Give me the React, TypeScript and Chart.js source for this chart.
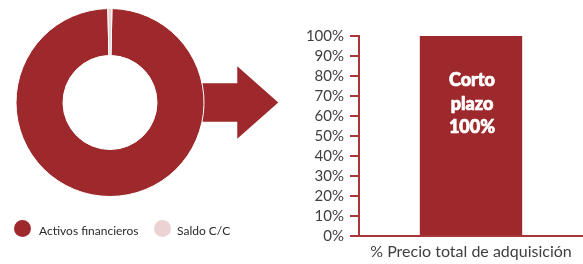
import React, { useEffect, useRef } from 'react';
import { Chart, registerables } from 'chart.js';

Chart.register(...registerables);

const RED = '#9e292c';
const AXIS_RED = '#a8353a';
const TEXT_GRAY = '#3f3f3f';
const FONT = 'Lato';

const donutLabels = ['Activos financieros', 'Saldo C/C'];
const donutValues = [99.3, 0.7];
const donutColors = [RED, '#ebd2d3'];

const barCategories = ['Corto plazo'];
const barValues = [100];
const yMin = 0;
const yMax = 100;
const yStep = 10;
const xAxisTitle = '% Precio total de adquisición';

const arrowPlugin = {
  id: 'arrowDeco',
  beforeDatasetsDraw(chart: any) {
    const arc: any = chart.getDatasetMeta(0).data[0];
    if (!arc) return;
    const cx = arc.x;
    const cy = arc.y;
    const r = arc.outerRadius;
    const ctx = chart.ctx;
    ctx.save();
    ctx.fillStyle = RED;
    ctx.beginPath();
    ctx.moveTo(cx + 0.75 * r, cy - 0.206 * r);
    ctx.lineTo(cx + 1.354 * r, cy - 0.206 * r);
    ctx.lineTo(cx + 1.354 * r, cy - 0.386 * r);
    ctx.lineTo(cx + 1.79 * r, cy);
    ctx.lineTo(cx + 1.354 * r, cy + 0.386 * r);
    ctx.lineTo(cx + 1.354 * r, cy + 0.206 * r);
    ctx.lineTo(cx + 0.75 * r, cy + 0.206 * r);
    ctx.closePath();
    ctx.fill();
    ctx.restore();
  },
};

const barLabelPlugin = {
  id: 'barLabel',
  afterDatasetsDraw(chart: any) {
    const meta = chart.getDatasetMeta(0);
    const ctx = chart.ctx;
    ctx.save();
    ctx.fillStyle = '#ffffff';
    ctx.strokeStyle = '#ffffff';
    ctx.lineWidth = 0.7;
    ctx.lineJoin = 'round';
    ctx.font = `900 18px ${FONT}`;
    ctx.textAlign = 'center';
    ctx.textBaseline = 'alphabetic';
    meta.data.forEach((bar: any, i: number) => {
      const lines = [...barCategories[i].split(' '), `${barValues[i]}%`];
      lines.forEach((line, j) => {
        const y = bar.y + 50 + j * 23.5;
        ctx.fillText(line, bar.x + 1, y);
        ctx.strokeText(line, bar.x + 1, y);
      });
    });
    ctx.restore();
  },
};

export default function App() {
  const donutRef = useRef<HTMLCanvasElement>(null);
  const barRef = useRef<HTMLCanvasElement>(null);

  useEffect(() => {
    const donut = new Chart(donutRef.current!, {
      type: 'doughnut',
      data: {
        labels: donutLabels,
        datasets: [
          {
            data: donutValues,
            backgroundColor: donutColors,
            borderColor: '#ffffff',
            borderWidth: 1,
          },
        ],
      },
      options: {
        responsive: false,
        animation: false,
        cutout: '50%',
        rotation: 1.2,
        layout: { padding: { left: 15, right: 95, top: 8, bottom: 67 } },
        plugins: { legend: { display: false }, tooltip: { enabled: false } },
      },
      plugins: [arrowPlugin],
    });

    const bar = new Chart(barRef.current!, {
      type: 'bar',
      data: {
        labels: barCategories,
        datasets: [
          {
            data: barValues,
            backgroundColor: RED,
            barPercentage: 0.457,
            categoryPercentage: 1,
          },
        ],
      },
      options: {
        responsive: false,
        animation: false,
        layout: { padding: { left: 0, right: 0, top: 36, bottom: 0 } },
        plugins: { legend: { display: false }, tooltip: { enabled: false } },
        scales: {
          x: {
            grid: { display: false },
            border: { display: true, color: AXIS_RED, width: 2 },
            ticks: { display: false },
            title: {
              display: true,
              text: xAxisTitle,
              color: TEXT_GRAY,
              font: { family: FONT, size: 16 },
              padding: { top: 0, bottom: 3 },
            },
            afterFit(scale: any) {
              scale.height = 28;
            },
          },
          y: {
            min: yMin,
            max: yMax,
            grid: {
              display: true,
              drawOnChartArea: false,
              drawTicks: true,
              tickLength: 9,
              color: AXIS_RED,
              lineWidth: 2,
            },
            border: { display: true, color: AXIS_RED, width: 2 },
            ticks: {
              stepSize: yStep,
              autoSkip: false,
              padding: 6,
              color: TEXT_GRAY,
              font: { family: FONT, size: 15 },
              callback: (v: any) => `${v}%`,
            },
            afterFit(scale: any) {
              scale.width = 71;
            },
          },
        },
      },
      plugins: [barLabelPlugin],
    });

    return () => {
      donut.destroy();
      bar.destroy();
    };
  }, []);

  return (
    <div
      style={{
        position: 'fixed',
        left: 0,
        top: 0,
        width: 583,
        height: 264,
        background: '#ffffff',
        overflow: 'hidden',
      }}
    >
      <canvas
        ref={donutRef}
        width={300}
        height={264}
        style={{ position: 'absolute', left: 0, top: 0, width: 300, height: 264 }}
      />
      <canvas
        ref={barRef}
        width={295}
        height={264}
        style={{ position: 'absolute', left: 288, top: 0, width: 295, height: 264 }}
      />
      {donutLabels.map((label, i) => (
        <div
          key={label}
          style={{
            position: 'absolute',
            left: i === 0 ? 14 : 154,
            top: 219,
            height: 18,
            display: 'flex',
            alignItems: 'center',
            fontFamily: FONT,
            fontSize: 12,
            color: '#2a2a2a',
            whiteSpace: 'nowrap',
          }}
        >
          <span
            style={{
              display: 'inline-block',
              width: 17,
              height: 17,
              borderRadius: '50%',
              background: donutColors[i],
              marginRight: i === 0 ? 8 : 6,
            }}
          />
          <span style={{ position: 'relative', top: 2 }}>{label}</span>
        </div>
      ))}
    </div>
  );
}
